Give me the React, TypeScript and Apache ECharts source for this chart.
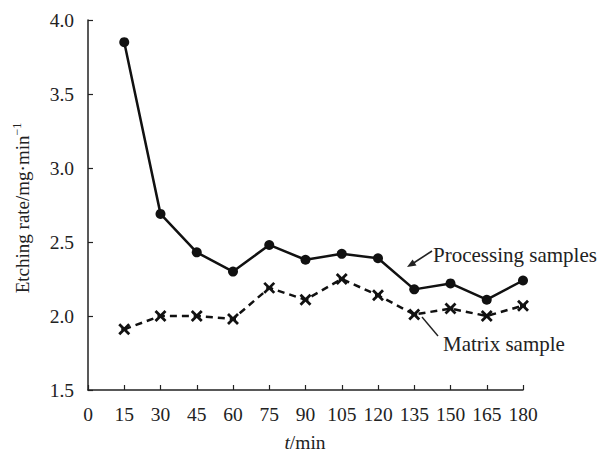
import React, { useEffect, useRef } from "react";
import * as echarts from "echarts";

const times = [15, 30, 45, 60, 75, 90, 105, 120, 135, 150, 165, 180];
const processing = [3.85, 2.69, 2.43, 2.3, 2.48, 2.38, 2.42, 2.39, 2.18, 2.22, 2.11, 2.24];
const matrix = [1.91, 2.0, 2.0, 1.98, 2.19, 2.11, 2.25, 2.14, 2.01, 2.05, 2.0, 2.07];
const xTicks = { min: 0, max: 180, interval: 15 };
const yTicks = { min: 1.5, max: 4.0, interval: 0.5 };

const FONT = "'Liberation Serif', 'Times New Roman', serif";

export default function App() {
  const ref = useRef<HTMLDivElement>(null);
  useEffect(() => {
    if (!ref.current) return;
    const chart = echarts.init(ref.current, null, { renderer: "svg" });
    const procData = times.map((t, i) => [t, processing[i]]);
    const matData = times.map((t, i) => [t, matrix[i]]);
    chart.setOption({
      animation: false,
      backgroundColor: "#ffffff",
      grid: { left: 88, right: 79, top: 20, bottom: 66 },
      xAxis: {
        type: "value",
        min: xTicks.min,
        max: xTicks.max,
        interval: xTicks.interval,
        axisLine: { lineStyle: { color: "#222", width: 1.5 } },
        axisTick: { inside: true, length: 5, lineStyle: { color: "#222", width: 1.2 } },
        axisLabel: { color: "#222", fontFamily: FONT, fontSize: 19.5, margin: 14 },
        splitLine: { show: false },
      },
      yAxis: {
        type: "value",
        min: yTicks.min,
        max: yTicks.max,
        interval: yTicks.interval,
        axisLine: { show: true, lineStyle: { color: "#222", width: 1.5 } },
        axisTick: { show: true, inside: true, length: 5, lineStyle: { color: "#222", width: 1.2 } },
        axisLabel: {
          color: "#222",
          fontFamily: FONT,
          fontSize: 19.5,
          margin: 14,
          formatter: (v: number) => v.toFixed(1),
        },
        splitLine: { show: false },
      },
      series: [
        {
          name: "Processing samples",
          type: "line",
          data: procData,
          symbol: "circle",
          symbolSize: 10,
          itemStyle: { color: "#111" },
          lineStyle: { color: "#111", width: 2.5 },
          z: 3,
        },
        {
          name: "Matrix sample",
          type: "line",
          data: matData,
          symbol: "path://M0,0 L10,10 M10,0 L0,10 M2,5 L8,5",
          symbolSize: 10,
          itemStyle: { color: "transparent", borderColor: "#111", borderWidth: 2.8 },
          lineStyle: { color: "#111", width: 2.5, type: [7, 5] },
          z: 2,
        },
      ],
      graphic: [
        {
          type: "text",
          x: 21,
          y: 208,
          rotation: Math.PI / 2,
          style: {
            text: "{a|Etching rate/mg·min}{s|−1}",
            rich: {
              a: { fontFamily: FONT, fontSize: 19, fill: "#222", verticalAlign: "bottom" },
              s: { fontFamily: FONT, fontSize: 12, fill: "#222", verticalAlign: "top", padding: [0, 0, 9, 0] },
            },
            align: "center",
            verticalAlign: "middle",
          },
        },
        {
          type: "text",
          x: 305,
          y: 442,
          style: {
            text: "{i|t}{n|/min}",
            rich: {
              i: { fontFamily: FONT, fontSize: 19.5, fontStyle: "italic", fill: "#222" },
              n: { fontFamily: FONT, fontSize: 19.5, fill: "#222" },
            },
            align: "center",
            verticalAlign: "middle",
          },
        },
        {
          type: "text",
          x: 433,
          y: 255,
          style: { text: "Processing samples", fontFamily: FONT, fontSize: 21, fill: "#222", align: "left", verticalAlign: "middle" },
        },
        {
          type: "line",
          shape: { x1: 432, y1: 251, x2: 412, y2: 264 },
          style: { stroke: "#222", lineWidth: 1.6 },
        },
        {
          type: "polygon",
          shape: { points: [[407, 267], [416.5, 265.4], [412.6, 259.4]] },
          style: { fill: "#222" },
        },
        {
          type: "text",
          x: 443,
          y: 344,
          style: { text: "Matrix sample", fontFamily: FONT, fontSize: 21, fill: "#222", align: "left", verticalAlign: "middle" },
        },
        {
          type: "line",
          shape: { x1: 422, y1: 317, x2: 438, y2: 336 },
          style: { stroke: "#222", lineWidth: 1.4 },
        },
      ],
    });
    return () => chart.dispose();
  }, []);
  return (
    <div
      ref={ref}
      style={{ position: "fixed", left: 0, top: 0, width: 602, height: 456, background: "#fff" }}
    />
  );
}
